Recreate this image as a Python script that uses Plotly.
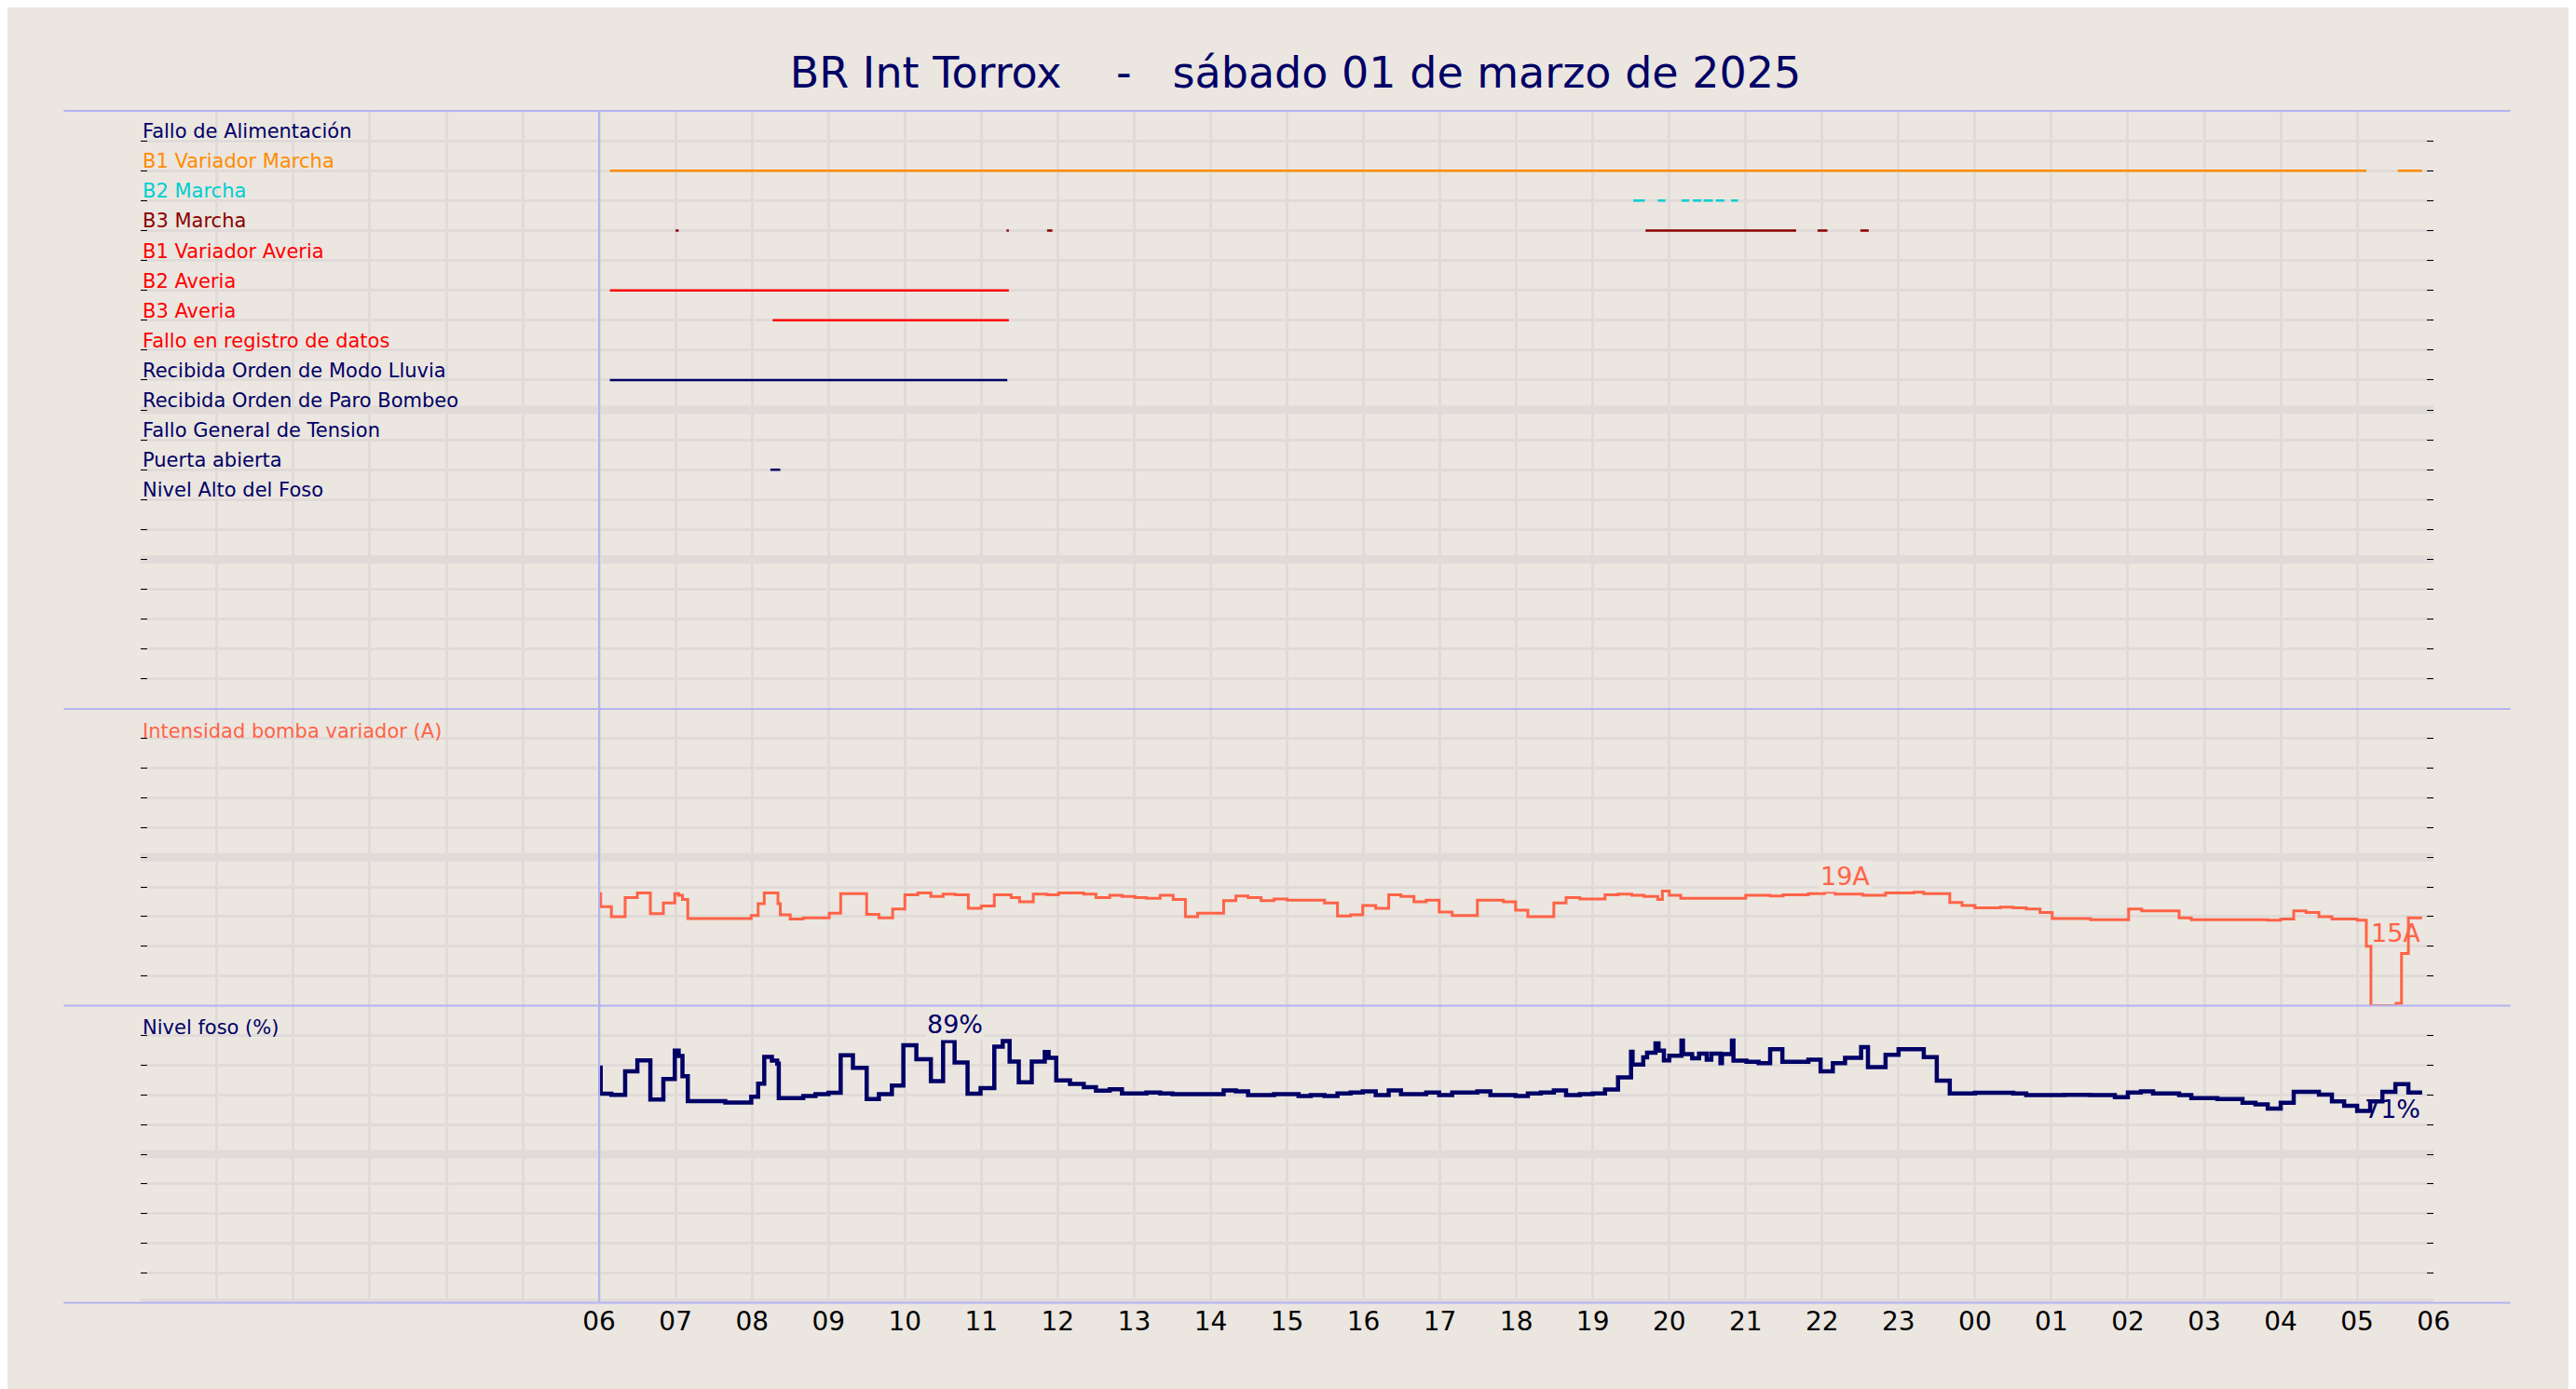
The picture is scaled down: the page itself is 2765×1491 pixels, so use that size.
import plotly.graph_objects as go
from plotly.subplots import make_subplots

# hours counted from 00:00 of 01/03/2025
hour_ticks = list(range(6, 31))
hour_labels = ["%02d" % (h % 24) for h in hour_ticks]

# digital signals: row, label, colour, segments (start, end) in hours
signal_rows = list(range(1, 14))
signal_names = ["Fallo de Alimentación", "B1 Variador Marcha", "B2 Marcha", "B3 Marcha",
                "B1 Variador Averia", "B2 Averia", "B3 Averia", "Fallo en registro de datos",
                "Recibida Orden de Modo Lluvia", "Recibida Orden de Paro Bombeo",
                "Fallo General de Tension", "Puerta abierta", "Nivel Alto del Foso"]
signal_colors = ["#000066", "#ff8c00", "#00ced1", "#8b0000", "#ff0000", "#ff0000", "#ff0000",
                 "#ff0000", "#000066", "#000066", "#000066", "#000066", "#000066"]
signal_segments = [
    [],
    [(6.14, 29.12), (29.53, 29.85)],
    [(19.53, 19.68), (19.85, 19.95), (20.16, 20.26), (20.31, 20.42), (20.45, 20.57),
     (20.61, 20.72), (20.81, 20.90)],
    [(7.0, 7.04), (11.33, 11.36), (11.86, 11.93), (19.69, 21.66), (21.94, 22.07), (22.50, 22.61)],
    [],
    [(6.14, 11.36)],
    [(8.27, 11.36)],
    [],
    [(6.14, 11.34)],
    [],
    [],
    [(8.24, 8.37)],
    [],
]

# pump current (A), step starts
amp_t = [6.0, 6.02, 6.16, 6.34, 6.50, 6.67, 6.84, 6.99, 7.04, 7.09, 7.16, 7.99, 8.08, 8.16, 8.34,
         8.37, 8.50, 8.67, 9.01, 9.16, 9.50, 9.66, 9.84, 10.00, 10.17, 10.34, 10.50, 10.66, 10.83,
         11.00, 11.17, 11.39, 11.50, 11.68, 11.86, 12.01, 12.34, 12.50, 12.68, 12.84, 13.01, 13.16,
         13.34, 13.51, 13.67, 13.83, 14.17, 14.33, 14.49, 14.66, 14.83, 15.0, 15.49, 15.66, 15.83,
         15.99, 16.16, 16.33, 16.49, 16.66, 16.82, 16.99, 17.16, 17.49, 17.83, 17.99, 18.15, 18.49,
         18.65, 18.83, 19.16, 19.33, 19.51, 19.67, 19.85, 19.91, 20.0, 20.15, 21.0, 21.32, 21.49,
         21.82, 22.03, 22.17, 22.53, 22.83, 23.2, 23.33, 23.67, 23.83, 24.0, 24.33, 24.5, 24.67,
         24.85, 25.01, 25.51, 26.01, 26.18, 26.67, 26.83, 27.83, 28.0, 28.17, 28.33, 28.5, 28.67,
         29.0, 29.12, 29.18, 29.51, 29.58, 29.67, 29.85]
amp_v = [18.9, 16.7, 15.0, 18.2, 19.0, 15.5, 17.3, 18.9, 18.6, 17.9, 14.7, 15.2, 17.2, 19.0, 17.2,
         15.3, 14.6, 14.8, 15.6, 18.9, 15.4, 14.8, 16.3, 18.7, 19.0, 18.4, 18.8, 18.7, 16.4,
         16.8, 18.7, 18.2, 17.5, 18.8, 18.7, 19.0, 18.8, 18.2, 18.6, 18.4, 18.2, 18.1,
         18.6, 17.9, 15.0, 15.6, 17.7, 18.5, 18.2, 17.7, 18.0, 17.8, 17.3, 15.1, 15.3,
         16.9, 16.4, 18.7, 18.4, 17.5, 17.8, 15.8, 15.2, 17.8, 17.5, 16.1, 15.0, 17.3,
         18.2, 18.0, 18.7, 18.8, 18.6, 18.4, 17.9, 19.3, 18.6, 18.1, 18.6, 18.5, 18.7,
         18.9, 19.1, 18.8, 18.6, 19.0, 19.1, 18.9, 17.4, 16.9, 16.5, 16.6, 16.5, 16.3,
         15.7, 14.7, 14.5, 16.3, 16.0, 14.8, 14.5, 14.4, 14.6, 16.0, 15.7, 15.0, 14.6,
         14.4, 10.0, 0.0, 0.4, 8.8, 14.8, 14.8]

# pit level (%), step starts
lvl_t = [6.0, 6.02, 6.16, 6.34, 6.5, 6.67, 6.84, 6.99, 7.04, 7.09, 7.16, 7.65, 7.99, 8.08, 8.16,
         8.26, 8.33, 8.35, 8.67, 8.83, 9.0, 9.16, 9.32, 9.5, 9.66, 9.83, 9.98, 10.15, 10.34, 10.5,
         10.65, 10.82, 10.99, 11.17, 11.28, 11.37, 11.49, 11.66, 11.83, 11.88, 11.98, 12.16, 12.34,
         12.5, 12.68, 12.84, 13.16, 13.34, 13.5, 14.17, 14.33, 14.49, 14.83, 15.15, 15.31, 15.49,
         15.66, 15.83, 15.99, 16.16, 16.33, 16.49, 16.82, 16.99, 17.16, 17.49, 17.66, 17.99, 18.15,
         18.32, 18.49, 18.65, 18.83, 19.0, 19.16, 19.33, 19.5, 19.52, 19.66, 19.71, 19.82, 19.86,
         19.93, 20.0, 20.16, 20.18, 20.3, 20.39, 20.49, 20.55, 20.67, 20.69, 20.82, 20.84, 21.01,
         21.17, 21.32, 21.48, 21.64, 21.82, 21.98, 22.14, 22.3, 22.51, 22.6, 22.83, 23.0, 23.33,
         23.5, 23.67, 24.0, 24.5, 24.67, 25.17, 25.5, 25.83, 26.0, 26.17, 26.33, 26.67, 26.83,
         27.17, 27.5, 27.67, 27.83, 28.0, 28.17, 28.5, 28.67, 28.83, 29.0, 29.17, 29.33, 29.5,
         29.67, 29.85]
lvl_v = [79.2, 70.4, 70.0, 77.9, 81.6, 68.4, 75.3, 84.9, 83.1, 76.3, 67.9, 67.4, 69.4, 73.8, 82.8,
         81.5, 80.5, 68.9, 69.6, 70.2, 70.7, 83.3, 79.1, 68.6, 70.2, 73.1, 86.7, 82.0, 74.6, 88.1,
         80.9, 70.4, 72.3, 86.2, 88.1, 81.2, 74.2, 81.2, 84.4, 82.5, 74.9, 73.7, 72.6,
         71.4, 71.9, 70.5, 70.8, 70.5, 70.2, 71.5, 71.2, 69.9, 70.2, 69.6, 69.9, 69.6,
         70.5, 70.8, 71.2, 69.9, 71.5, 70.2, 70.8, 69.9, 70.8, 71.2, 69.9, 69.6, 70.5,
         70.8, 71.5, 69.9, 70.2, 70.5, 71.8, 75.9, 84.5, 80.2, 82.6, 84.2, 87.3, 84.9,
         81.6, 83.2, 88.3, 83.7, 82.3, 83.9, 81.8, 83.9, 80.7, 83.7, 88.3, 81.5, 81.1,
         80.7, 85.4, 81.1, 81.1, 81.8, 77.9, 80.7, 82.5, 86.1, 79.3, 83.5, 85.4, 82.7,
         74.8, 70.5, 70.7, 70.5, 69.9, 70.0, 69.9, 69.2, 70.8, 71.2, 70.5, 69.9, 68.9,
         68.6, 67.3, 66.8, 65.4, 67.3, 71.0, 70.1, 67.8, 66.3, 64.6, 67.8, 71.0, 73.6,
         70.8, 70.8]

BG = "#ebe6e0"
GRID = "#e0dbd8"
SPINE = "#b3b3f2"
NAVY = "#000066"
TOMATO = "#ff6347"
FONT = "DejaVu Sans"

fig = make_subplots(rows=3, cols=1, shared_xaxes=True, vertical_spacing=0,
                    row_heights=[0.5, 0.25, 0.25])

for name, color, segs, row in zip(signal_names, signal_colors, signal_segments, signal_rows):
    xs, ys = [], []
    for a, b in segs:
        xs += [a, b, None]
        ys += [row, row, None]
    if xs:
        fig.add_trace(go.Scatter(x=xs, y=ys, mode="lines", line=dict(color=color, width=2.5),
                                 hoverinfo="skip"), row=1, col=1)
    fig.add_annotation(x=0, y=row, xref="x", yref="y", text=name, showarrow=False,
                       xanchor="left", yanchor="bottom", yshift=-4,
                       font=dict(color=color, size=21, family=FONT))

fig.add_trace(go.Scatter(x=amp_t, y=amp_v, mode="lines", line=dict(color=TOMATO, width=3, shape="hv")),
              row=2, col=1)
fig.add_trace(go.Scatter(x=lvl_t, y=lvl_v, mode="lines", line=dict(color=NAVY, width=4.5, shape="hv")),
              row=3, col=1)

fig.add_annotation(x=0, y=45, xref="x2", yref="y2", text="Intensidad bomba variador (A)",
                   showarrow=False, xanchor="left", yanchor="bottom", yshift=-6,
                   font=dict(color=TOMATO, size=21, family=FONT))
fig.add_annotation(x=0, y=90, xref="x3", yref="y3", text="Nivel foso (%)",
                   showarrow=False, xanchor="left", yanchor="bottom", yshift=-6,
                   font=dict(color=NAVY, size=21, family=FONT))

fig.add_annotation(x=22.3, y=19.1, xref="x2", yref="y2", text="19A", showarrow=False,
                   yanchor="bottom", bgcolor=BG, font=dict(color=TOMATO, size=27, family=FONT))
fig.add_annotation(x=29.85, y=15, xref="x2", yref="y2", text="15A", showarrow=False,
                   xanchor="right", yanchor="top", font=dict(color=TOMATO, size=27, family=FONT))
fig.add_annotation(x=10.65, y=88.3, xref="x3", yref="y3", text="89%", showarrow=False,
                   yanchor="bottom", bgcolor=BG, font=dict(color=NAVY, size=27, family=FONT))
fig.add_annotation(x=29.85, y=70.8, xref="x3", yref="y3", text="71%", showarrow=False,
                   xanchor="right", yanchor="top", font=dict(color=NAVY, size=27, family=FONT))

xcommon = dict(range=[0, 30], domain=[0.052, 0.948], tickvals=hour_ticks, ticktext=hour_labels,
               showgrid=True, gridcolor=GRID, gridwidth=3, zeroline=False, ticks="",
               minor=dict(dtick=1, tick0=0, showgrid=True, gridcolor=GRID, gridwidth=3))
for i in (1, 2, 3):
    fig.update_xaxes(xcommon, row=i, col=1)
fig.update_xaxes(tickfont=dict(size=28, color="black", family=FONT), row=3, col=1)

ycommon = dict(showgrid=True, gridcolor=GRID, gridwidth=3, zeroline=False, showticklabels=False,
               ticks="inside", ticklen=7, tickcolor="black", mirror="ticks")
fig.update_yaxes(ycommon, range=[20, 0], dtick=1, tick0=0, domain=[0.495, 0.9255], row=1, col=1)
fig.update_yaxes(ycommon, range=[0, 50], dtick=5, tick0=0, domain=[0.2813, 0.495], row=2, col=1)
fig.update_yaxes(ycommon, range=[0, 100], dtick=10, tick0=0, domain=[0.0674, 0.2813], row=3, col=1)

# heavier grid every fifth row
for yref, vals in (("y", [10, 15]), ("y2", [25]), ("y3", [50, 0])):
    for v in vals:
        fig.add_shape(type="line", xref="x domain", yref=yref, x0=0, x1=1, y0=v, y1=v,
                      line=dict(color=GRID, width=9), layer="below")

# spines
for yv in (0.9255, 0.495, 0.2813, 0.0674):
    fig.add_shape(type="line", xref="paper", yref="paper", x0=0.022, x1=0.978, y0=yv, y1=yv,
                  line=dict(color=SPINE, width=2))
fig.add_shape(type="line", xref="x", yref="paper", x0=6, x1=6, y0=0.0674, y1=0.9255,
              line=dict(color=SPINE, width=2))

fig.update_layout(
    width=2765, height=1491, showlegend=False,
    paper_bgcolor=BG, plot_bgcolor=BG,
    font=dict(family=FONT),
    title=dict(text="BR Int Torrox    -   sábado 01 de marzo de 2025", x=0.5, xanchor="center",
               y=0.953, yanchor="middle", font=dict(size=46, color=NAVY, family=FONT)),
    margin=dict(l=0, r=0, t=0, b=0),
)
fig.write_html("out.html")
